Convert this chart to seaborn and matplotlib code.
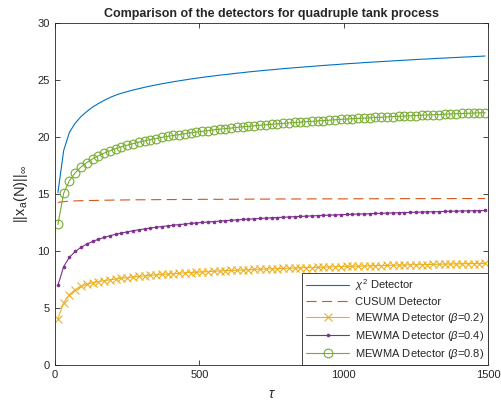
import matplotlib
matplotlib.use("Agg")
import matplotlib.pyplot as plt
import seaborn as sns
import pandas as pd

# tau grid (every 20 samples, as in the reference markers)
tau = list(range(10, 1491, 20))

chi2_detector = [
    15.10, 18.80, 20.40, 21.20, 21.78,
    22.22, 22.61, 22.92, 23.20, 23.45,
    23.66, 23.83, 23.97, 24.11, 24.23,
    24.35, 24.46, 24.56, 24.66, 24.75,
    24.84, 24.92, 25.00, 25.08, 25.15,
    25.22, 25.29, 25.35, 25.42, 25.47,
    25.53, 25.59, 25.64, 25.70, 25.75,
    25.80, 25.85, 25.89, 25.94, 25.99,
    26.03, 26.07, 26.11, 26.15, 26.19,
    26.23, 26.27, 26.31, 26.34, 26.38,
    26.42, 26.45, 26.48, 26.52, 26.55,
    26.58, 26.61, 26.64, 26.67, 26.70,
    26.73, 26.76, 26.79, 26.82, 26.84,
    26.87, 26.90, 26.92, 26.95, 26.97,
    27.00, 27.02, 27.05, 27.07, 27.10,
]

cusum_detector = [
    14.24, 14.31, 14.35, 14.37, 14.39,
    14.40, 14.41, 14.42, 14.43, 14.44,
    14.45, 14.45, 14.46, 14.46, 14.47,
    14.47, 14.48, 14.48, 14.49, 14.49,
    14.49, 14.50, 14.50, 14.50, 14.50,
    14.51, 14.51, 14.51, 14.51, 14.52,
    14.52, 14.52, 14.52, 14.53, 14.53,
    14.53, 14.53, 14.53, 14.54, 14.54,
    14.54, 14.54, 14.54, 14.54, 14.55,
    14.55, 14.55, 14.55, 14.55, 14.55,
    14.55, 14.56, 14.56, 14.56, 14.56,
    14.56, 14.56, 14.56, 14.56, 14.57,
    14.57, 14.57, 14.57, 14.57, 14.57,
    14.57, 14.57, 14.57, 14.57, 14.58,
    14.58, 14.58, 14.58, 14.58, 14.58,
]

mewma_02 = [
    4.03, 5.44, 6.14, 6.58, 6.87,
    7.05, 7.18, 7.28, 7.37, 7.44,
    7.51, 7.58, 7.63, 7.69, 7.74,
    7.79, 7.83, 7.87, 7.91, 7.95,
    7.98, 8.01, 8.05, 8.08, 8.11,
    8.13, 8.16, 8.19, 8.21, 8.24,
    8.26, 8.28, 8.30, 8.32, 8.35,
    8.37, 8.39, 8.40, 8.42, 8.44,
    8.46, 8.47, 8.49, 8.51, 8.52,
    8.54, 8.55, 8.57, 8.58, 8.60,
    8.61, 8.63, 8.64, 8.65, 8.67,
    8.68, 8.69, 8.70, 8.72, 8.73,
    8.74, 8.75, 8.76, 8.77, 8.78,
    8.79, 8.81, 8.82, 8.83, 8.84,
    8.85, 8.86, 8.87, 8.87, 8.88,
]

mewma_04 = [
    6.96, 8.60, 9.42, 9.93, 10.29,
    10.58, 10.81, 11.00, 11.16, 11.31,
    11.44, 11.55, 11.65, 11.75, 11.83,
    11.91, 11.99, 12.06, 12.12, 12.18,
    12.24, 12.29, 12.34, 12.39, 12.44,
    12.48, 12.52, 12.56, 12.60, 12.64,
    12.67, 12.71, 12.74, 12.77, 12.80,
    12.83, 12.86, 12.89, 12.91, 12.94,
    12.96, 12.99, 13.01, 13.03, 13.06,
    13.08, 13.10, 13.12, 13.14, 13.16,
    13.18, 13.20, 13.22, 13.23, 13.25,
    13.27, 13.28, 13.30, 13.32, 13.33,
    13.35, 13.36, 13.38, 13.39, 13.41,
    13.42, 13.43, 13.45, 13.46, 13.47,
    13.49, 13.50, 13.51, 13.52, 13.53,
]

mewma_08 = [
    12.30, 15.05, 16.15, 16.84, 17.35,
    17.74, 18.06, 18.33, 18.57, 18.77,
    18.95, 19.12, 19.27, 19.40, 19.53,
    19.65, 19.75, 19.85, 19.95, 20.04,
    20.12, 20.20, 20.28, 20.35, 20.42,
    20.48, 20.55, 20.61, 20.67, 20.72,
    20.77, 20.83, 20.88, 20.92, 20.97,
    21.02, 21.06, 21.10, 21.14, 21.18,
    21.22, 21.26, 21.29, 21.33, 21.36,
    21.40, 21.43, 21.46, 21.50, 21.53,
    21.56, 21.59, 21.62, 21.64, 21.67,
    21.70, 21.72, 21.75, 21.78, 21.80,
    21.82, 21.85, 21.87, 21.90, 21.92,
    21.94, 21.96, 21.98, 22.01, 22.03,
    22.05, 22.07, 22.09, 22.11, 22.12,
]

df = pd.DataFrame({
    "tau": tau,
    "chi2": chi2_detector,
    "cusum": cusum_detector,
    "m02": mewma_02,
    "m04": mewma_04,
    "m08": mewma_08,
})

sns.set_theme(style="white")
plt.rcParams.update({
    "font.family": ["Liberation Sans", "DejaVu Sans"],
    "font.size": 8,
    "mathtext.fontset": "custom",
    "mathtext.rm": "Liberation Sans",
    "mathtext.it": "Liberation Sans:italic",
    "mathtext.bf": "Liberation Sans:bold",
    "axes.edgecolor": "#262626",
    "axes.linewidth": 0.6,
    "xtick.color": "#262626",
    "ytick.color": "#262626",
})

fig = plt.figure(figsize=(5.02, 4.07), dpi=100)
ax = fig.add_axes([0.1096, 0.1044, 0.8625, 0.8391])

lw = 0.8
blue, orange, yellow, purple, green = "#0072BD", "#D95319", "#EDB120", "#7E2F8E", "#77AC30"

sns.lineplot(data=df, x="tau", y="chi2", ax=ax, color=blue, lw=lw,
             label=r"$\chi^2$ Detector")
sns.lineplot(data=df, x="tau", y="cusum", ax=ax, color=orange, lw=lw,
             ls=(0, (9, 5)), label="CUSUM Detector")
sns.lineplot(data=df, x="tau", y="m02", ax=ax, color=yellow, lw=lw,
             marker="x", markersize=5.5, markeredgewidth=0.8,
             markeredgecolor=yellow, label=r"MEWMA Detector ($\beta$=0.2)")
sns.lineplot(data=df, x="tau", y="m04", ax=ax, color=purple, lw=lw,
             marker=".", markersize=4, markeredgewidth=0.6,
             markeredgecolor=purple, markerfacecolor=purple,
             label=r"MEWMA Detector ($\beta$=0.4)")
sns.lineplot(data=df, x="tau", y="m08", ax=ax, color=green, lw=lw,
             marker="o", markersize=6.3, markerfacecolor="none",
             markeredgewidth=0.8, markeredgecolor=green,
             label=r"MEWMA Detector ($\beta$=0.8)")

ax.set_xlim(0, 1500)
ax.set_ylim(0, 30)
ax.set_xticks([0, 500, 1000, 1500])
ax.set_yticks([0, 5, 10, 15, 20, 25, 30])
ax.tick_params(direction="in", length=3.5, width=0.6, labelsize=8,
               top=True, right=True, bottom=True, left=True, pad=4)

ax.set_title("Comparison of the detectors for quadruple tank process",
             fontsize=9, fontweight="bold", pad=4)
ax.set_xlabel(r"$\tau$", fontsize=10, labelpad=5)
ax.set_ylabel(r"$||\mathrm{x_a(N)}||_\infty$", fontsize=10.5, labelpad=5)

leg = ax.legend(loc="lower right", borderaxespad=0, fontsize=8,
                handlelength=3.9, labelspacing=0.35, handletextpad=0.5,
                borderpad=0.35, fancybox=False, framealpha=1)
leg.get_frame().set_edgecolor("#262626")
leg.get_frame().set_linewidth(0.6)

fig.savefig("out.png", dpi=100)
